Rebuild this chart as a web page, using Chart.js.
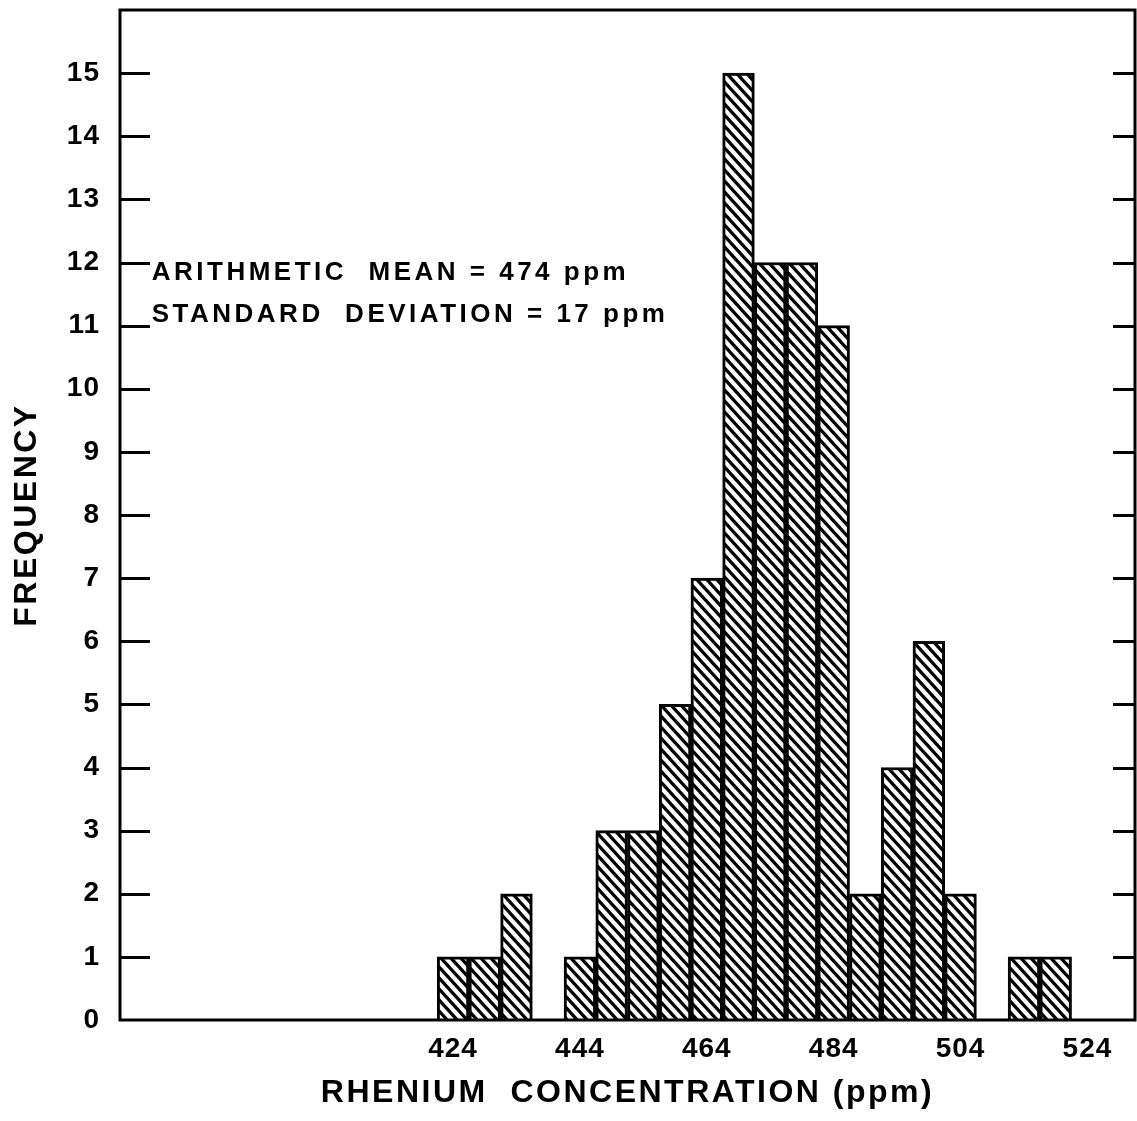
<!DOCTYPE html>
<html>
<head>
<meta charset="utf-8">
<script src="https://cdn.jsdelivr.net/npm/chart.js@4.4.1/dist/chart.umd.min.js"></script>
<style>
  html, body { margin: 0; padding: 0; background: #fff; }
</style>
</head>
<body>
<canvas id="histChart" width="1137" height="1121"></canvas>
<script>
// bin centres (ppm) and counts
const binCenters = [424, 429, 434, 444, 449, 454, 459, 464, 469, 474, 479, 484, 489, 494, 499, 504, 514, 519];
const frequencies = [1, 1, 2, 1, 3, 3, 5, 7, 15, 12, 12, 11, 2, 4, 6, 2, 1, 1];
const xTickValues = [424, 444, 464, 484, 504, 524];
const yTickValues = [0, 1, 2, 3, 4, 5, 6, 7, 8, 9, 10, 11, 12, 13, 14, 15];
const xTitle = 'RHENIUM  CONCENTRATION (ppm)';
const yTitle = 'FREQUENCY';
const statsLines = ['ARITHMETIC  MEAN = 474 ppm', 'STANDARD  DEVIATION = 17 ppm'];

const FONT = '"Liberation Sans", Arial, sans-serif';

function makeHatch() {
    const c = document.createElement('canvas');
    c.width = 10;
    c.height = 11;
    const g = c.getContext('2d');
    g.fillStyle = '#fff';
    g.fillRect(0, 0, 10, 11);
    g.strokeStyle = '#000';
    g.lineWidth = 3.2;
    g.beginPath();
    for (const dx of [-10, 0, 10]) {
        g.moveTo(dx - 10, -11);
        g.lineTo(dx + 20, 22);
    }
    g.stroke();
    return g.createPattern(c, 'repeat');
}

const framePlugin = {
    id: 'frame',
    beforeDraw(chart) {
        chart.ctx.letterSpacing = '2.5px';
    },
    afterDatasetsDraw(chart) {
        const { ctx, chartArea: a, scales: { x, y } } = chart;
        ctx.save();
        ctx.strokeStyle = '#000';
        ctx.lineWidth = 3;
        ctx.strokeRect(a.left, a.top, a.right - a.left, a.bottom - a.top);
        ctx.beginPath();
        yTickValues.forEach(v => {
            if (v === 0) return;
            const py = Math.round(y.getPixelForValue(v)) + 0.5;
            ctx.moveTo(a.left, py);
            ctx.lineTo(a.left + 30, py);
            ctx.moveTo(a.right - 22, py);
            ctx.lineTo(a.right, py);
        });
        ctx.stroke();

        // stats note, top left of the plot
        ctx.fillStyle = '#000';
        ctx.font = 'bold 26px ' + FONT;
        ctx.letterSpacing = '3.5px';
        ctx.textAlign = 'left';
        ctx.textBaseline = 'alphabetic';
        const tx = x.getPixelForValue(376.5);
        ctx.fillText(statsLines[0], tx, y.getPixelForValue(11.72));
        ctx.fillText(statsLines[1], tx, y.getPixelForValue(11.06));
        ctx.restore();
        ctx.letterSpacing = '1px';
    }
};

const ctx = document.getElementById('histChart').getContext('2d');
const chart = new Chart(ctx, {
    type: 'bar',
    data: {
        datasets: [{
            data: binCenters.map((c, i) => ({ x: c, y: frequencies[i] })),
            backgroundColor: makeHatch(),
            borderColor: '#000',
            borderWidth: 3,
            borderSkipped: 'start',
            barPercentage: 1,
            categoryPercentage: 1
        }]
    },
    options: {
        responsive: false,
        animation: false,
        layout: { padding: { top: 10, right: 2, left: 0, bottom: 0 } },
        plugins: {
            legend: { display: false },
            tooltip: { enabled: false }
        },
        scales: {
            x: {
                type: 'linear',
                min: 371.5,
                max: 531.5,
                offset: false,
                grid: { display: false, drawTicks: false },
                border: { display: false },
                afterBuildTicks: s => { s.ticks = xTickValues.map(v => ({ value: v })); },
                afterFit: s => {
                    s.height = 101;
                    s.paddingLeft = 0;
                    s.paddingRight = 0;
                },
                ticks: {
                    z: 1,
                    autoSkip: false,
                    maxRotation: 0,
                    padding: 12,
                    color: '#000',
                    font: { family: FONT, size: 28, weight: 'bold' }
                },
                title: {
                    display: true,
                    text: xTitle,
                    color: '#000',
                    padding: { top: 0, bottom: 9 },
                    font: { family: FONT, size: 32, weight: 'bold', lineHeight: 1.2 }
                }
            },
            y: {
                min: 0,
                max: 16,
                grid: { display: false, drawTicks: false },
                border: { display: false },
                afterBuildTicks: s => { s.ticks = yTickValues.map(v => ({ value: v })); },
                afterFit: s => {
                    s.width = 120;
                    s.paddingTop = 0;
                    s.paddingBottom = 0;
                },
                ticks: {
                    z: 1,
                    autoSkip: false,
                    padding: 20,
                    color: '#000',
                    font: { family: FONT, size: 28, weight: 'bold' }
                },
                title: {
                    display: true,
                    text: yTitle,
                    color: '#000',
                    padding: { top: 8, bottom: 0 },
                    font: { family: FONT, size: 32, weight: 'bold', lineHeight: 1.2 }
                }
            }
        }
    },
    plugins: [framePlugin]
});
</script>
</body>
</html>
